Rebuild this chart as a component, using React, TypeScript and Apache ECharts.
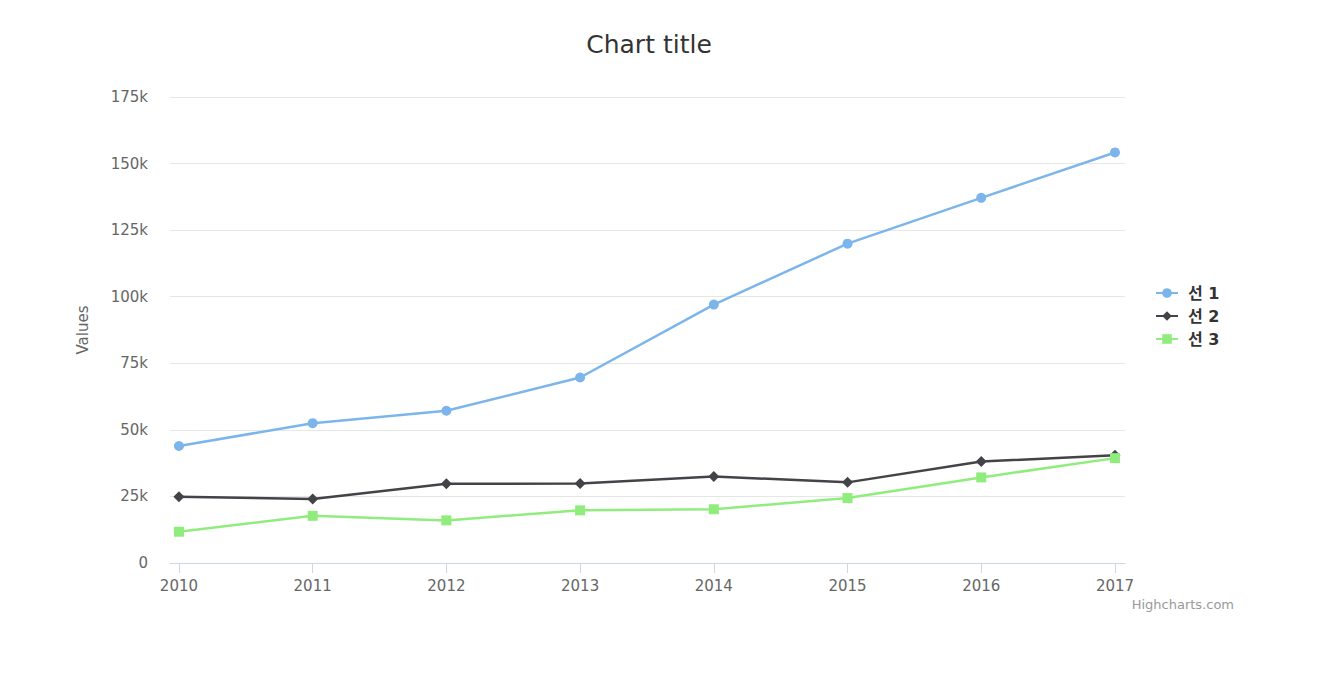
import React, { useEffect, useRef } from "react";
import * as echarts from "echarts";

const years = [2010, 2011, 2012, 2013, 2014, 2015, 2016, 2017];
const series1 = [43934, 52503, 57177, 69658, 97031, 119931, 137133, 154175];
const series2 = [24916, 24064, 29742, 29851, 32490, 30282, 38121, 40434];
const series3 = [11744, 17722, 16005, 19771, 20185, 24377, 32147, 39387];
const seriesNames = ["선 1", "선 2", "선 3"];
const colors = ["#7cb5ec", "#434348", "#90ed7d"];

const FONT = '"DejaVu Sans", "Noto Sans CJK KR", sans-serif';

export default function App() {
  const ref = useRef<HTMLDivElement>(null);
  useEffect(() => {
    const chart = echarts.init(ref.current!, null, { renderer: "svg" });
    const mk = (arr: number[]) => years.map((y, i) => [y, arr[i]]);
    chart.setOption({
      animation: false,
      textStyle: { fontFamily: FONT },
      title: {
        text: "Chart title",
        left: 644,
        textAlign: "center",
        top: 27,
        textStyle: { fontFamily: FONT, fontSize: 25, fontWeight: "normal", color: "#333333" },
      },
      graphic: [
        {
          type: "text",
          right: 86,
          top: 598,
          style: { text: "Highcharts.com", fontFamily: FONT, fontSize: 13, fill: "#999999" },
        },
      ],
      legend: {
        orient: "vertical",
        left: 1150,
        top: 280,
        itemWidth: 22,
        itemHeight: 12,
        itemGap: 7,
        data: seriesNames,
        textStyle: {
          fontFamily: FONT,
          fontSize: 16,
          fontWeight: "bold",
          color: "#333333",
          padding: [0, 0, 0, 5],
        },
      },
      grid: { left: 170, right: 195, top: 97, bottom: 133, containLabel: false },
      xAxis: {
        type: "value",
        min: 2009.933,
        max: 2017.075,
        axisLine: { show: true, lineStyle: { color: "#ccd6eb" } },
        axisTick: { show: true, length: 10, lineStyle: { color: "#ccd6eb" }, customValues: years },
        axisLabel: {
          customValues: years,
          color: "#666666",
          fontSize: 15,
          fontFamily: FONT,
          margin: 15,
          formatter: (v: number) => String(Math.round(v)),
        },
        splitLine: { show: false },
      },
      yAxis: {
        type: "value",
        min: 0,
        max: 175000,
        interval: 25000,
        name: "Values",
        nameLocation: "middle",
        nameGap: 80,
        nameTextStyle: { color: "#666666", fontSize: 15, fontFamily: FONT },
        axisLine: { show: false },
        axisTick: { show: false },
        axisLabel: {
          color: "#666666",
          fontSize: 15,
          fontFamily: FONT,
          margin: 22,
          formatter: (v: number) => (v === 0 ? "0" : v / 1000 + "k"),
        },
        splitLine: { lineStyle: { color: "#e6e6e6" } },
      },
      series: [
        { name: seriesNames[0], data: mk(series1), symbol: "circle", symbolSize: 10 },
        { name: seriesNames[1], data: mk(series2), symbol: "diamond", symbolSize: 11 },
        { name: seriesNames[2], data: mk(series3), symbol: "rect", symbolSize: 10 },
      ].map((s, i) => ({
        ...s,
        type: "line",
        color: colors[i],
        lineStyle: { width: 2.5, color: colors[i] },
        itemStyle: { color: colors[i] },
        showAllSymbol: true,
      })),
    });
    return () => chart.dispose();
  }, []);
  return (
    <div
      ref={ref}
      style={{ position: "absolute", left: 0, top: 0, width: 1320, height: 696, background: "#fff" }}
    />
  );
}
